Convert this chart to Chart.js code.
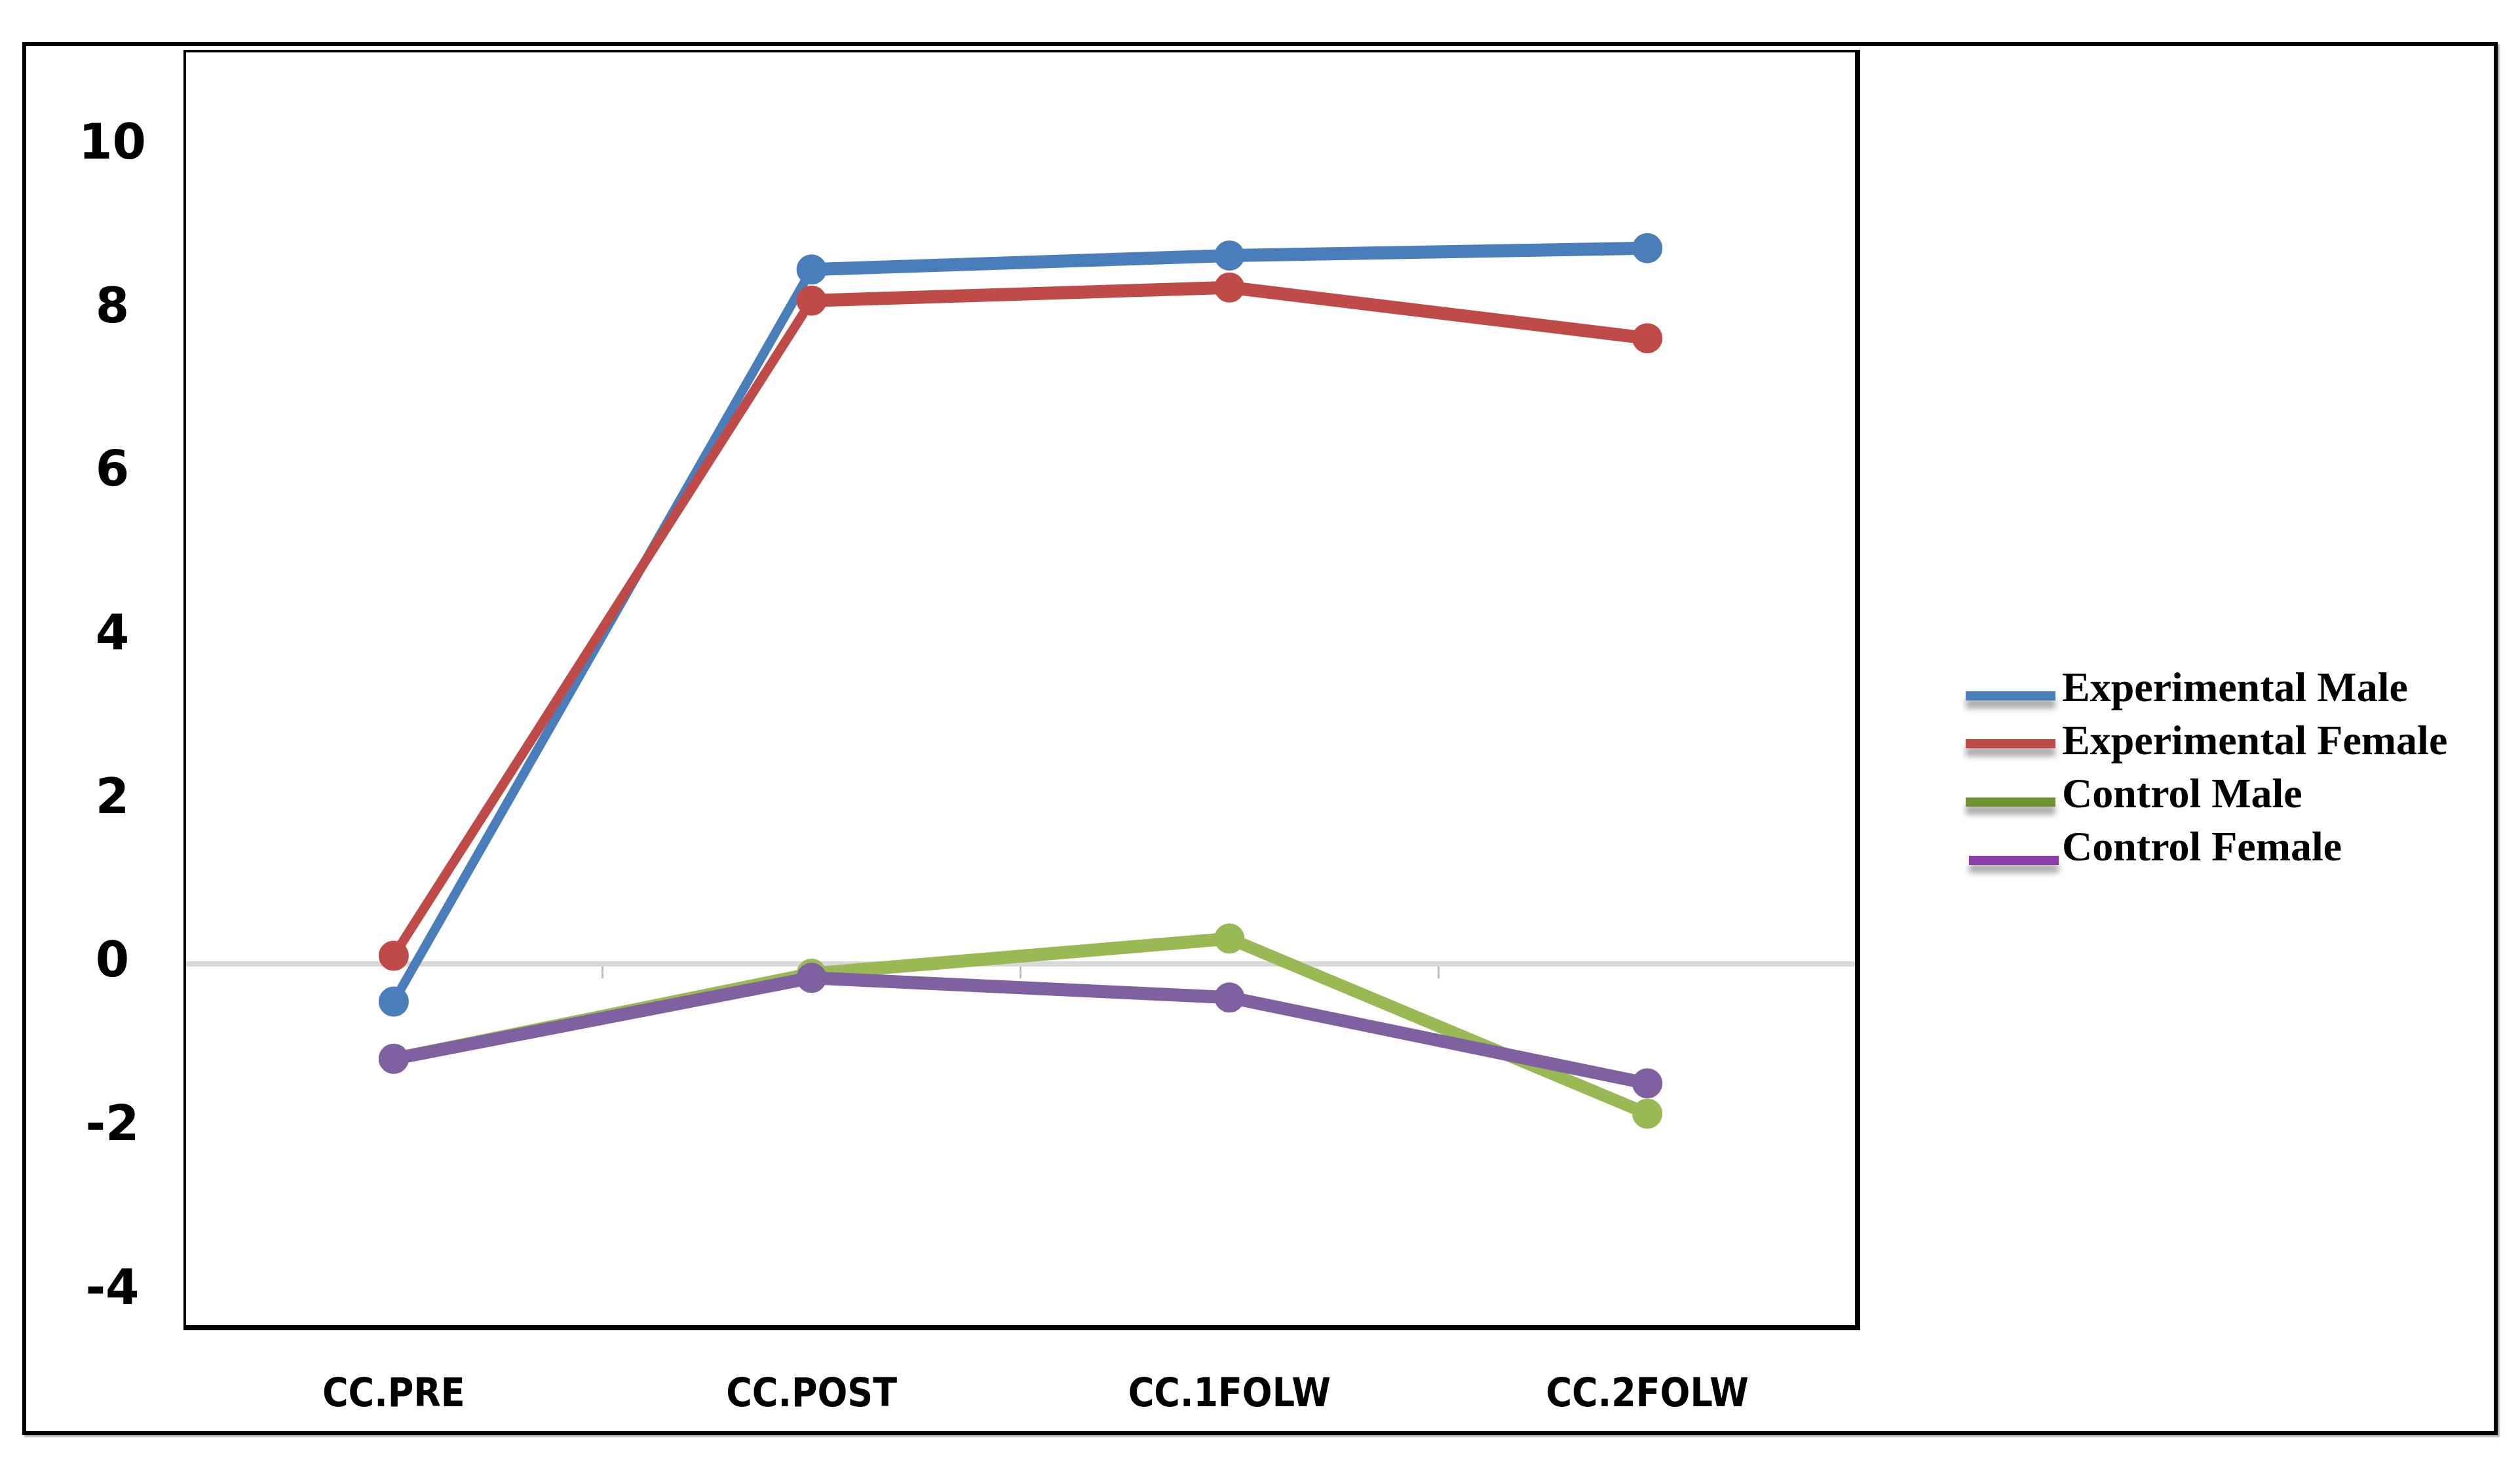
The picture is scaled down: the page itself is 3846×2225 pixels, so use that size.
<!DOCTYPE html>
<html>
<head>
<meta charset="utf-8">
<script src="https://cdn.jsdelivr.net/npm/chart.js@4.4.1/dist/chart.umd.min.js"></script>
<style>
  html, body { margin: 0; padding: 0; background: #fff; }
  #wrap { position: relative; width: 3846px; height: 2225px; }
  #frame { position: absolute; left: 34px; top: 64px; width: 3778px; height: 2126px; box-sizing: border-box; border: 6px solid #000; box-shadow: 3px 3px 2px #b0b0b0; }
  canvas { position: absolute; left: 0; top: 0; }
</style>
</head>
<body>
<div id="wrap">
  <div id="frame"></div>
  <canvas id="chart" width="3846" height="2225"></canvas>
</div>
<script>
// data
const categories = ["CC.PRE", "CC.POST", "CC.1FOLW", "CC.2FOLW"];
const expMale = [-0.46, 8.49, 8.66, 8.75];
const expFemale = [0.10, 8.11, 8.27, 7.65];
const ctrlMale = [-1.16, -0.12, 0.31, -1.83];
const ctrlFemale = [-1.16, -0.17, -0.41, -1.46];
const yTicks = [-4, -2, 0, 2, 4, 6, 8, 10];
const seriesNames = ["Experimental Male", "Experimental Female", "Control Male", "Control Female"];

const lineColors = ["#4a7ebb", "#be4b48", "#98b954", "#7f60a1"];
const legendColors = ["#4a7ebb", "#be4b48", "#6f9132", "#8a3ca8"];

// legend at the right, drawn by hand so the spacing matches
const sideLegend = {
  id: "sideLegend",
  afterDraw(chart) {
    const ctx = chart.ctx;
    const textY = [1053, 1134, 1215, 1296];
    const swatchY = [1062, 1135, 1224, 1313];
    chart.data.datasets.forEach((ds, i) => {
      ctx.save();
      ctx.shadowColor = "rgba(0,0,0,0.35)";
      ctx.shadowBlur = 10;
      ctx.shadowOffsetY = 12;
      ctx.fillStyle = legendColors[i];
      ctx.fillRect(3000 + (i === 3 ? 5 : 0), swatchY[i] - 7, 137, 14);
      ctx.restore();
      ctx.save();
      ctx.fillStyle = "#000";
      ctx.font = "bold 64px 'Liberation Serif'";
      ctx.textBaseline = "middle";
      ctx.fillText(ds.label, 3147, textY[i]);
      ctx.restore();
    });
  }
};

// box round the plot area
const plotFrame = {
  id: "plotFrame",
  beforeDatasetsDraw(chart) {
    const { left, top, right, bottom } = chart.chartArea;
    const ctx = chart.ctx;
    ctx.save();
    ctx.strokeStyle = "#000";
    ctx.lineWidth = 4;
    ctx.beginPath();
    ctx.moveTo(left, bottom);
    ctx.lineTo(left, top);
    ctx.lineTo(right, top);
    ctx.stroke();
    ctx.lineWidth = 8;
    ctx.beginPath();
    ctx.moveTo(right + 2, top - 2);
    ctx.lineTo(right + 2, bottom + 2);
    ctx.lineTo(left - 2, bottom + 2);
    ctx.stroke();
    ctx.restore();
  }
};

// steep segments look thinner in the original
function segWidth(c) {
  const dx = c.p1.x - c.p0.x, dy = c.p1.y - c.p0.y;
  const s2 = (dy * dy) / (dx * dx + dy * dy);
  return 20 * (1 - s2) + 12 * s2;
}

const allSeries = [expMale, expFemale, ctrlMale, ctrlFemale];

new Chart(document.getElementById("chart"), {
  type: "line",
  data: {
    labels: categories,
    datasets: allSeries.map((vals, i) => ({
      label: seriesNames[i],
      data: vals,
      borderColor: lineColors[i],
      backgroundColor: lineColors[i],
      pointBackgroundColor: lineColors[i],
      pointBorderColor: lineColors[i],
      borderWidth: 20,
      segment: { borderWidth: segWidth },
      pointRadius: 22,
      pointBorderWidth: 2,
      tension: 0,
      order: 4 - i
    }))
  },
  options: {
    responsive: false,
    animation: false,
    devicePixelRatio: 1,
    layout: { padding: { left: 40, right: 1013, top: 78, bottom: 55 } },
    plugins: {
      legend: { display: false },
      tooltip: { enabled: false }
    },
    scales: {
      x: {
        type: "category",
        offset: true,
        grid: { display: false },
        border: { display: false },
        afterFit: s => { s.height = 146; },
        ticks: {
          color: "#000",
          padding: 62,
          maxRotation: 0,
          autoSkip: false,
          font: { family: "'DejaVu Sans Condensed', 'DejaVu Sans'", size: 60, weight: "bold condensed" }
        }
      },
      xZero: {
        type: "category",
        axis: "x",
        position: { y: 0 },
        offset: true,
        grid: { drawOnChartArea: false, drawTicks: true, tickLength: 22, color: "#bfbfbf", lineWidth: 3, offset: true },
        border: { display: false },
        ticks: { display: false }
      },
      y: {
        min: -4.43,
        max: 11.16,
        afterBuildTicks: s => { s.ticks = yTicks.map(v => ({ value: v })); },
        afterFit: s => { s.width = 242; s.paddingTop = 0; s.paddingBottom = 0; },
        grid: {
          color: c => (c.tick && c.tick.value === 0 ? "#d9d9d9" : "rgba(0,0,0,0)"),
          lineWidth: 8,
          drawTicks: false
        },
        border: { display: false },
        ticks: {
          color: "#000",
          crossAlign: "center",
          padding: 59,
          font: { family: "'DejaVu Sans'", size: 74, weight: "bold" }
        }
      }
    }
  },
  plugins: [plotFrame, sideLegend]
});
</script>
</body>
</html>
